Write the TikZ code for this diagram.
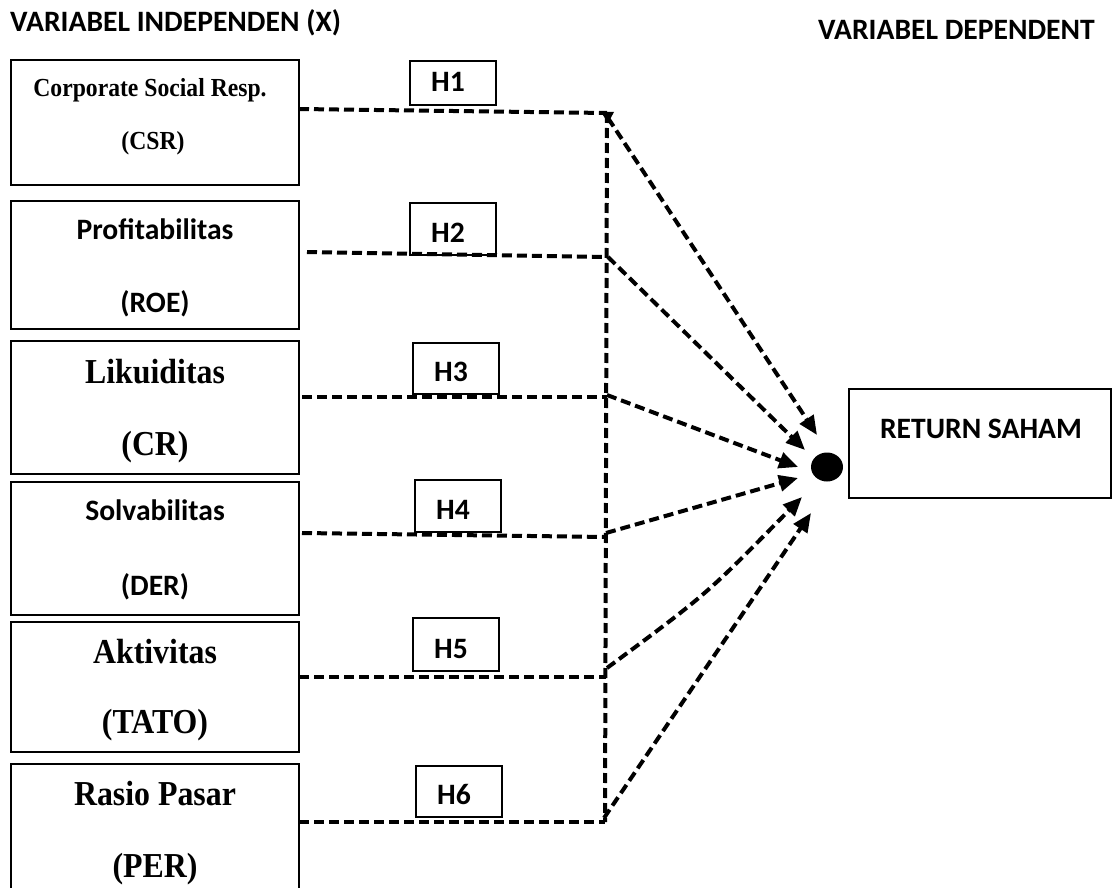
\documentclass[tikz,border=0pt]{standalone}
\usepackage{fontspec}
\setmainfont{Carlito}
\newfontfamily\tnrfont[FakeStretch=0.91]{Liberation Serif}
\newfontfamily\calfont{Carlito}
\usetikzlibrary{arrows.meta,shapes.geometric}
\begin{document}
\begin{tikzpicture}[x=1pt,y=-1pt,
  vbox/.style={draw, line width=2.8pt, minimum width=288pt, inner sep=0pt},
  hbox/.style={draw, line width=2pt, minimum width=86pt, inner sep=0pt},
  rbox/.style={draw, line width=2.8pt, minimum width=262pt, minimum height=109pt, inner sep=0pt},
  calt/.style={font=\calfont\bfseries\fontsize{29.6}{34}\selectfont, inner sep=0pt, anchor=base},
  serbig/.style={font=\tnrfont\bfseries\fontsize{35}{40}\selectfont, inner sep=0pt, anchor=base},
  sersmall/.style={font=\tnrfont\bfseries\fontsize{26}{30}\selectfont, inner sep=0pt, anchor=base},
  head/.style={font=\calfont\bfseries\fontsize{29.6}{34}\selectfont, inner sep=0pt},
  conn/.style={line width=4pt, dash pattern=on 10pt off 5pt},
  arr/.style={conn, -{Triangle[length=19pt,width=16pt]}}]
\useasboundingbox (0,0) rectangle (1112,888);
\clip (0,0) rectangle (1112,888);

% headers
\node[head, anchor=base west] (hx) at (10,32) {VARIABEL INDEPENDEN (X)};
\node[head, anchor=base west] (hy) at (818,40) {VARIABEL DEPENDENT};

% independent variable boxes
\node[vbox, minimum height=125pt] (b1) at (155,122.5) {};
\node[vbox, minimum height=128pt] (b2) at (155,265) {};
\node[vbox, minimum height=133pt] (b3) at (155,407.5) {};
\node[vbox, minimum height=133pt] (b4) at (155,548.5) {};
\node[vbox, minimum height=130pt] (b5) at (155,687) {};
\node[vbox, minimum height=131pt] (b6) at (155,829.5) {};

\node[sersmall] (t1a) at (150,97) {Corporate Social Resp.};
\node[sersmall] (t1b) at (153,150) {(CSR)};
\node[calt] (t2a) at (155,240) {Profitabilitas};
\node[calt] (t2b) at (155,312) {(ROE)};
\node[serbig] (t3a) at (155,383) {Likuiditas};
\node[serbig] (t3b) at (155,455) {(CR)};
\node[calt] (t4a) at (155,520) {Solvabilitas};
\node[calt] (t4b) at (155,595) {(DER)};
\node[serbig] (t5a) at (155,663) {Aktivitas};
\node[serbig] (t5b) at (155,733) {(TATO)};
\node[serbig] (t6a) at (155,805) {Rasio Pasar};
\node[serbig] (t6b) at (155,877) {(PER)};

% hypothesis boxes
\node[hbox, minimum height=44pt] (h1) at (453,83) {};
\node[hbox, minimum height=52pt] (h2) at (453,229) {};
\node[hbox, minimum height=51pt] (h3) at (456,368.5) {};
\node[hbox, minimum height=52pt] (h4) at (458,506) {};
\node[hbox, minimum height=53pt] (h5) at (456,644.5) {};
\node[hbox, minimum height=51pt] (h6) at (459,791.5) {};
\node[calt] (l1) at (448,92) {H1};
\node[calt] (l2) at (448,242) {H2};
\node[calt] (l3) at (451,381) {H3};
\node[calt] (l4) at (453,519) {H4};
\node[calt] (l5) at (451,658) {H5};
\node[calt] (l6) at (454,804) {H6};

% dependent
\node[rbox] (ret) at (980,443.5) {};
\node[calt] (rett) at (981,438) {RETURN SAHAM};
\node[fill, ellipse, minimum width=32pt, minimum height=29pt, inner sep=0pt] (dot) at (827,467) {};

% connector points
\coordinate (s1) at (299,109);
\coordinate (s2) at (307,252);
\coordinate (s3) at (302,397);
\coordinate (s4) at (302,533);
\coordinate (s5) at (299,677);
\coordinate (s6) at (299,822);
\coordinate (j1) at (607,113);
\coordinate (j2) at (607,257);
\coordinate (j3) at (607,397);
\coordinate (j4) at (607,537);
\coordinate (j5) at (606,677);
\coordinate (j6) at (605,822);
\coordinate (a1) at (608,118);
\coordinate (a2) at (608,257);
\coordinate (a3) at (607,395);
\coordinate (a4) at (606,533);
\coordinate (a5) at (607,668);
\coordinate (a6) at (604,818);
\coordinate (e1) at (817,435);
\coordinate (e2) at (805,450);
\coordinate (e3) at (798,467);
\coordinate (e4) at (798,478);
\coordinate (e5) at (802,497);
\coordinate (e6) at (811,513);

% horizontal dashed lines
\draw[conn] (s1) -- (j1);
\draw[conn] (s2) -- (j2);
\draw[conn] (s3) -- (j3);
\draw[conn] (s4) -- (j4);
\draw[conn] (s5) -- (j5);
\draw[conn] (s6) -- (j6);
% vertical collector
\draw[conn] (j1) -- (j6);
\fill (601,112) -- (614,112) -- (608,123) -- cycle;

% arrows to the dot
\draw[arr] (a1) -- (e1);
\draw[arr] (a2) -- (e2);
\draw[arr] (a3) -- (e3);
\draw[arr] (a4) -- (e4);
\draw[arr] (a5) .. controls (707,594) .. (e5);
\draw[arr] (a6) -- (e6);
\end{tikzpicture}
\end{document}
